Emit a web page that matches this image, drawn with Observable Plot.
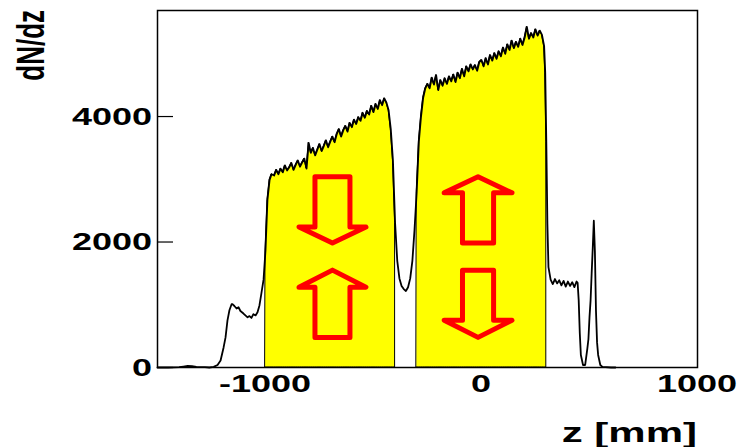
<!DOCTYPE html>
<html><head><meta charset="utf-8">
<script src="https://cdn.jsdelivr.net/npm/d3@7"></script>
<script src="https://cdn.jsdelivr.net/npm/@observablehq/plot@0.6"></script>
<style>body{margin:0;background:#fff;} svg{display:block}</style>
</head><body><div id="chart"></div>
<script>
// z positions (mm) of the histogram samples
const zPos = [
  -1500,-1450,-1400,-1380,-1360,-1340,-1320,-1300,-1280,-1260,-1240,
  -1222,-1208,-1194,-1185,-1176,-1167,-1157,-1153,-1144,-1134,-1125,-1116,-1102,-1093,-1083,-1074,-1065,-1056,-1046,-1037,-1028,-1019,-1009,
  -1000,-991,-981,-972,
  -960,-950,-940,-930,-920,-910,-900,-890,-880,-870,-860,-850,-840,-830,-820,-810,-800,-790,-780,-770,-760,-750,-740,-730,-720,-710,-700,-690,-680,-670,-660,-650,-640,-630,-620,-610,-600,-590,-580,-570,-560,-550,-540,-530,-520,-510,-500,-490,-480,-470,-460,-450,-440,-430,-420,-410,-400,
  -390,-380,-370,-360,-350,-340,-330,-320,-310,-300,-290,-280,-270,-260,
  -250,-240,-230,-220,-210,-200,-190,-180,-170,-160,-150,-140,-130,-120,-110,-100,-90,-80,-70,-60,-50,-40,-30,-20,-10,
  0,10,20,30,40,50,60,70,80,90,100,110,120,130,140,150,160,170,180,190,200,210,220,230,240,250,260,270,280,290,295,300,305,310,
  320,330,340,350,360,370,380,390,400,410,420,430,440,445,450,455,460,470,480,490,495,500,505,510,515,520,525,530,535,540,550,560,600,620
];
// dN/dz counts
const dNdz = [
  0,0,5,15,25,20,10,5,5,0,10,
  40,112,320,480,752,912,1008,1010,980,940,960,900,860,830,800,820,790,850,830,880,990,1180,1400,
  1870,2670,2990,3080,
  3060,3150,3080,3170,3110,3220,3140,3190,3260,3150,3230,3300,3200,3270,3330,3170,3580,3420,3500,3380,3470,3560,3450,3530,3620,3510,3600,3680,3590,3720,3800,3680,3780,3850,3760,3900,3830,3950,3880,3990,3930,4060,3980,4090,4030,4170,4070,4200,4120,4260,4180,4290,4220,4100,3800,3300,2300,
  1700,1420,1300,1250,1220,1280,1420,1700,2200,2800,3600,4000,4300,4450,
  4520,4450,4620,4510,4660,4420,4580,4490,4610,4520,4640,4560,4670,4550,4700,4610,4760,4640,4800,4720,4830,4750,4820,4730,4870,
  4900,4800,4930,4830,4980,4890,5010,4920,5040,4960,5100,5000,5150,5060,5210,5090,5190,5110,5240,5140,5260,5430,5240,5330,5260,5390,5290,5370,5300,5120,4700,3600,2300,1600,
  1400,1330,1410,1340,1390,1310,1380,1290,1370,1300,1360,1280,1370,1350,1070,550,200,40,40,300,450,800,1070,1500,1900,2340,1850,900,400,200,40,10,0,0
];
// shaded (yellow) z ranges
const yellowStart = [-1000, -300];
const yellowEnd = [-400, 300];
// tick values
const xTicks = [-1000, 0, 1000];
const yTicks = [0, 2000, 4000];
// hollow arrows: centre z, shaft half-width, head half-width, tail / neck / tip levels
const arrowId = ["Ldown", "Lup", "Rup", "Rdown"];
const arrowZ = [-690, -690, -16, -16];
const arrowShaft = [81, 81, 72, 72];
const arrowHead = [155, 155, 157, 157];
const arrowTail = [3040, 480, 1984, 1552];
const arrowNeck = [2240, 1280, 2784, 752];
const arrowTip = [1984, 1552, 3040, 480];

const data = zPos.map((z, i) => ({z, n: dNdz[i]}));
const filled = yellowStart.flatMap((s, k) =>
  data.filter(d => d.z >= s && d.z <= yellowEnd[k]).map(d => ({...d, seg: k})));
const arrowPts = arrowId.flatMap((id, i) => {
  const c = arrowZ[i], w = arrowShaft[i], h = arrowHead[i];
  const pts = [[c - w, arrowTail[i]], [c - w, arrowNeck[i]], [c - h, arrowNeck[i]], [c, arrowTip[i]],
               [c + h, arrowNeck[i]], [c + w, arrowNeck[i]], [c + w, arrowTail[i]], [c - w, arrowTail[i]]];
  return pts.map(([x, y]) => ({id, x, y}));
});

const plot = Plot.plot({
  width: 737, height: 447,
  marginLeft: 157, marginRight: 40, marginTop: 10, marginBottom: 80,
  x: {domain: [-1500, 1000], axis: null},
  y: {domain: [0, 5690], axis: null},
  marks: [
    Plot.areaY(filled, {x: "z", y: "n", z: "seg", fill: "#ffff00", stroke: "#000", strokeWidth: 1}),
    Plot.line(data, {x: "z", y: "n", stroke: "#000", strokeWidth: 1.8, strokeLinejoin: "round"}),
    Plot.tickY(yTicks, {y: d => d, stroke: "#000", strokeWidth: 1.2, insetRight: 524}),
    Plot.line(arrowPts, {x: "x", y: "y", z: "id", stroke: "#ff0000", strokeWidth: 5,
      strokeLinejoin: "round", strokeLinecap: "round"}),
    Plot.frame({stroke: "#000", strokeWidth: 1.5})
  ]
});
document.getElementById("chart").appendChild(plot);

const sx = plot.scale("x"), sy = plot.scale("y");
const svg = d3.select(plot);
const font = "'Liberation Sans', Arial, Helvetica, sans-serif";
function stretchedText(x, y, str, anchor, size, rotate) {
  svg.append("g")
    .attr("transform", `translate(${x},${y}) scale(1.5,1)${rotate ? ` rotate(${rotate})` : ""}`)
    .append("text")
    .attr("text-anchor", anchor)
    .attr("font-family", font)
    .attr("font-weight", "bold")
    .attr("font-size", size)
    .attr("fill", "#000")
    .text(str);
}
yTicks.forEach(v => stretchedText(152, sy.apply(v) + 8.5, String(v), "end", 24));
xTicks.forEach(v => stretchedText(sx.apply(v), 392, String(v), "middle", 24));
stretchedText(697, 442, "z [mm]", "end", 28);
stretchedText(44, 10, "dN/dz", "end", 26, -90);
</script>
</body></html>
